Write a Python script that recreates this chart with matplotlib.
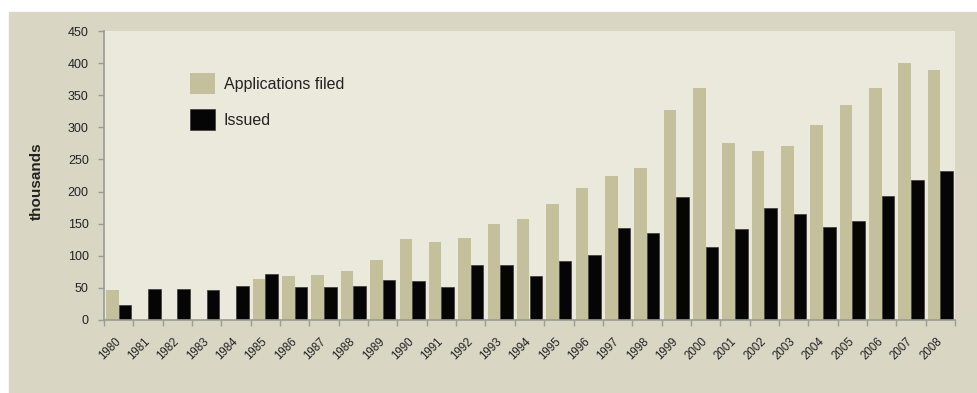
import matplotlib.pyplot as plt
import numpy as np
from matplotlib.patches import Rectangle

# Patent applications and grants, thousands per year
years = list(range(1980, 2009))
filed = [46, 0, 0, 0, 0, 64, 68, 70, 77, 94,
         126, 122, 127, 150, 157, 180, 206, 225, 237, 327,
         361, 276, 263, 271, 303, 334, 361, 400, 390]
issued = [24, 48, 48, 46, 53, 71, 51, 51, 53, 62,
          60, 52, 85, 86, 69, 92, 101, 144, 135, 191,
          114, 142, 175, 165, 145, 154, 193, 218, 232]

outer_bg = "#d9d7c4"
inner_bg = "#ebe8dc"
khaki = "#c4c09b"
axis_gray = "#9a9a96"

plt.rcParams["font.family"] = ["Liberation Sans", "DejaVu Sans"]

fig = plt.figure(figsize=(9.77, 3.93), dpi=100, facecolor="white")
# beige panel behind the whole chart
fig.patches.append(Rectangle((9 / 977, 0), 968 / 977, 381 / 393,
                             transform=fig.transFigure, color=outer_bg, zorder=-10))

ax = fig.add_axes([104 / 977, (393 - 320) / 393, 851 / 977, 289 / 393])
ax.set_facecolor(inner_bg)

x = np.arange(len(years))
w = 0.43
ax.bar(x - w / 2, filed, width=w, color=khaki, label="Applications filed", zorder=2)
ax.bar(x + w / 2, issued, width=w, color="#050505", edgecolor="#3a3a3a",
       linewidth=0.5, label="Issued", zorder=2)

ax.set_xlim(-0.5, len(years) - 0.5)
ax.set_ylim(0, 450)
ax.set_yticks(range(0, 451, 50))

# labels at bar centres, tick marks between the years
ax.set_xticks(x)
ax.set_xticklabels([str(y) for y in years], rotation=45, ha="right",
                   va="center", rotation_mode="anchor", fontsize=8.3, color="#222222")
ax.set_xticks(np.arange(-0.5, len(years)), minor=True)
ax.tick_params(axis="x", which="major", length=0, pad=14)
ax.tick_params(axis="x", which="minor", length=4, color=axis_gray, width=1)
ax.tick_params(axis="y", length=4, color=axis_gray, width=1, pad=7,
               labelsize=9, labelcolor="#222222")

for side in ("top", "right"):
    ax.spines[side].set_visible(False)
for side in ("left", "bottom"):
    ax.spines[side].set_color(axis_gray)
    ax.spines[side].set_linewidth(1.2)

ax.set_ylabel("thousands", fontsize=11, fontweight="bold", color="#222222")
ax.yaxis.set_label_coords(-0.071, 0.48)

ax.legend(loc="upper left", bbox_to_anchor=(0.101, 0.855), frameon=False,
          fontsize=11.5, borderpad=0, borderaxespad=0,
          handlelength=1.57, handleheight=1.68, labelspacing=0.9,
          handletextpad=0.55, labelcolor="#222222")

fig.savefig("out.png", dpi=100, facecolor=fig.get_facecolor())
